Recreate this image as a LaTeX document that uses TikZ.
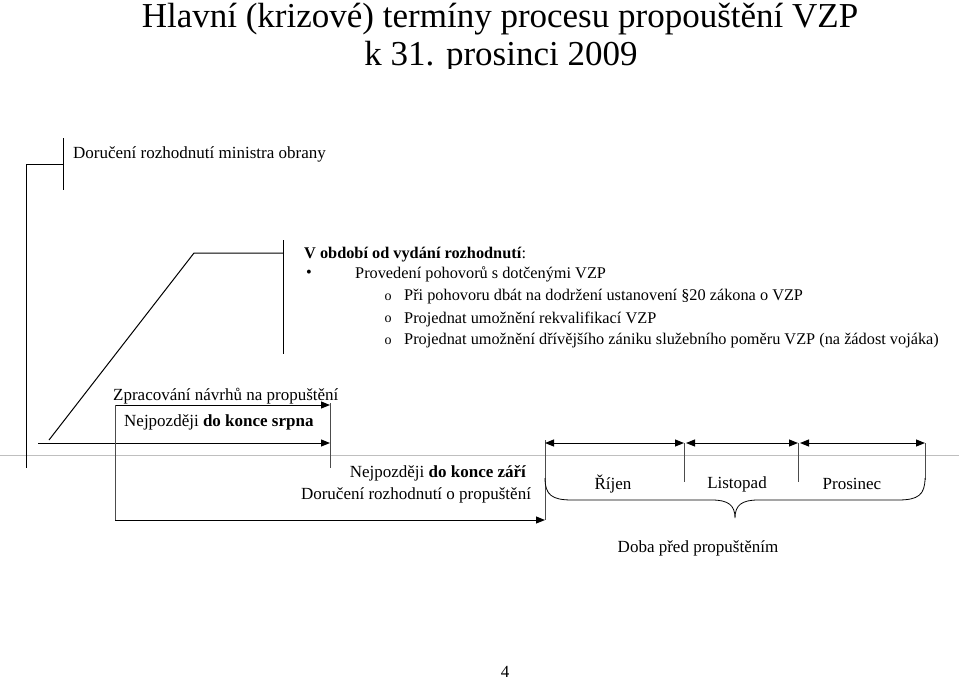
\documentclass[tikz,border=0pt]{standalone}
\usepackage{fontspec}
\setmainfont{Liberation Serif}
\usetikzlibrary{arrows.meta}
\begin{document}
\begin{tikzpicture}[x=1pt,y=-1pt,
  ln/.style={draw=black,line width=1pt},
  thin/.style={draw=black!70,line width=0.6pt},
  arr/.style={ln,-{Triangle[length=9pt,width=7pt]}},
  darr/.style={ln,{Triangle[length=9pt,width=7pt]}-{Triangle[length=9pt,width=7pt]}},
  txt/.style={font=\fontsize{17}{19}\selectfont,inner sep=0pt},
  lst/.style={font=\fontsize{16.3}{19}\selectfont,inner sep=0pt},
  lbl/.style={txt,anchor=west}]
\useasboundingbox (0,0) rectangle (959,681);
\begin{scope}
\clip (0,0) rectangle (959,68);
\node[inner sep=0pt,font=\fontsize{35}{40}\selectfont] (t1) at (500,19) {Hlavní (krizové) termíny procesu propouštění VZP};
\node[inner sep=0pt,font=\fontsize{35}{40}\selectfont] (t2) at (501,57) {k 31. prosinci 2009};
\end{scope}
\draw[black!25,line width=0.6pt] (0,455) -- (959,455);
% first marker
\coordinate (m1t) at (63,138); \coordinate (m1b) at (63,190);
\coordinate (m1j) at (63,164); \coordinate (m1l) at (26,164); \coordinate (m1e) at (26,468);
\draw[ln] (m1t) -- (m1b);
\draw[ln] (m1j) -- (m1l) -- (m1e);
\node[lbl] (dor) at (73,154) {Doručení rozhodnutí ministra obrany};
% second marker
\coordinate (m2t) at (283,240); \coordinate (m2b) at (283,354);
\coordinate (m2j) at (283,253); \coordinate (m2k) at (194,253); \coordinate (m2d) at (49,440);
\draw[ln] (m2t) -- (m2b);
\draw[ln] (m2j) -- (m2k) -- (m2d);
\node[lst,anchor=west] (vob) at (304,255) {\textbf{V období od vydání rozhodnutí}:};
\node[lst] (b1) at (309,274) {\textbullet};
\node[lst,anchor=west] (p1) at (355,274) {Provedení pohovorů s dotčenými VZP};
\foreach \y/\t in {297/{Při pohovoru dbát na dodržení ustanovení §20 zákona o VZP},
                   319/{Projednat umožnění rekvalifikací VZP},
                   341/{Projednat umožnění dřívějšího zániku služebního poměru VZP (na žádost vojáka)}}{
  \node[inner sep=0pt,font=\fontsize{14}{16}\selectfont] at (388,\y) {o};
  \node[lst,anchor=west] at (404,\y) {\t};
}
% processing arrows
\coordinate (a1s) at (115,405); \coordinate (a1e) at (330,405);
\coordinate (a2s) at (38,443); \coordinate (a2e) at (330,443);
\coordinate (v1t) at (330,403); \coordinate (v1b) at (330,468);
\draw[arr] (a1s) -- (a1e);
\draw[arr] (a2s) -- (a2e);
\draw[thin] (v1t) -- (v1b);
\node[lbl] (zpr) at (113,396) {Zpracování návrhů na propuštění};
\node[lbl] (srp) at (124,422) {Nejpozději \textbf{do konce srpna}};
% box to September
\coordinate (bxt) at (115,405); \coordinate (bxb) at (115,520); \coordinate (bxe) at (545,520);
\draw[thin] (bxt) -- (bxb);
\draw[ln,-{Triangle[length=9pt,width=7pt]}] (bxb) -- (bxe);
\coordinate (v2t) at (545,440); \coordinate (v2b) at (545,520);
\draw[thin] (v2t) -- (v2b);
\node[txt] (zar) at (438,473) {Nejpozději \textbf{do konce září}};
\node[txt] (dop) at (416,495) {Doručení rozhodnutí o propuštění};
% months
\coordinate (q0) at (545,443); \coordinate (q1) at (684,443); \coordinate (q1b) at (686,443);
\coordinate (q2) at (798,443); \coordinate (q2b) at (800,443); \coordinate (q3) at (925,443);
\draw[darr] (q0) -- (q1);
\draw[darr] (q1b) -- (q2);
\draw[darr] (q2b) -- (q3);
\draw[thin] (684,443) -- (684,482);
\draw[thin] (798,443) -- (798,482);
\draw[thin] (925,443) -- (925,480);
\node[txt] (rij) at (613,484) {Říjen};
\node[txt] (lis) at (737,484) {Listopad};
\node[txt] (pro) at (852,484) {Prosinec};
\draw[black,line width=0.8pt] (545,478) .. controls (545,495) and (552,500) .. (572,500)
  -- (712,500) .. controls (728,500) and (735,505) .. (735,518)
  .. controls (735,505) and (742,500) .. (758,500)
  -- (898,500) .. controls (918,500) and (925,495) .. (925,478);
\node[txt] (doba) at (698,548) {Doba před propuštěním};
\node[txt] (pg) at (505,672) {4};
\end{tikzpicture}
\end{document}
